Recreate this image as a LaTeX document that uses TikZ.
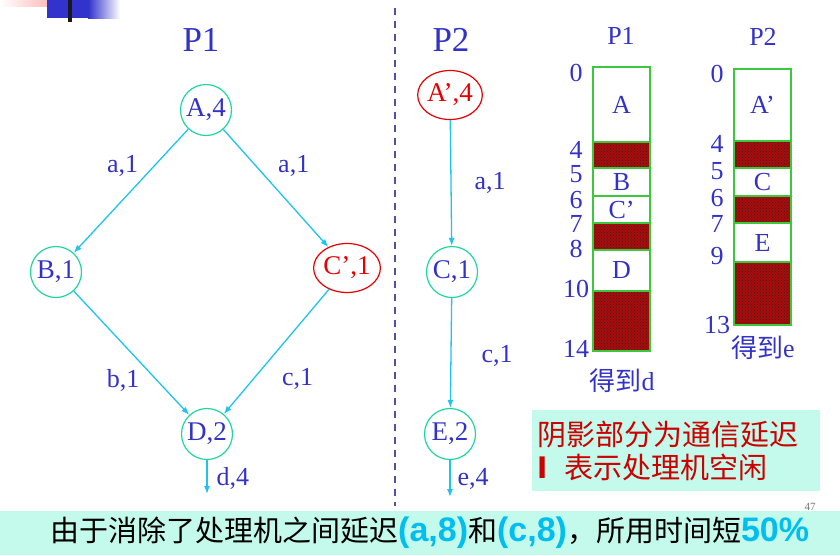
\documentclass[tikz,border=0pt]{standalone}
\usepackage{fontspec}
\setmainfont{Liberation Serif}
\newfontfamily\cjk{Noto Sans CJK SC}
\newfontfamily\lsans{Liberation Sans}
\usetikzlibrary{arrows.meta, shapes.geometric, patterns, positioning}
\definecolor{inkblue}{RGB}{50,50,200}
\definecolor{ringgreen}{RGB}{30,215,160}
\definecolor{hotred}{RGB}{230,0,0}
\definecolor{skyline}{RGB}{30,195,240}
\definecolor{slotgreen}{RGB}{60,200,60}
\definecolor{delayred}{RGB}{175,10,10}
\definecolor{splitline}{RGB}{80,80,170}
\definecolor{mintband}{RGB}{196,250,236}
\definecolor{notered}{RGB}{205,0,0}
\definecolor{brightcyan}{RGB}{0,190,240}
\definecolor{barblue}{RGB}{50,50,205}
\definecolor{barpink}{RGB}{255,170,170}
\newcommand{\hl}[1]{{\color{brightcyan}\lsans\bfseries\fontsize{34}{34}\selectfont #1}}
\tikzset{
  task/.style={circle, draw=ringgreen, line width=1.2pt, minimum size=51pt,
    inner sep=0pt, text=inkblue, font=\fontsize{27}{29}\selectfont},
  redtask/.style={task, ellipse, draw=hotred, text=hotred,
    minimum width=57pt, minimum height=49pt},
  edge/.style={-{Latex[length=8pt,width=6pt]}, draw=skyline, line width=1.3pt},
  lbl/.style={text=inkblue, inner sep=1pt, font=\fontsize{26}{28}\selectfont},
  title/.style={text=inkblue, inner sep=0pt, font=\fontsize{35}{37}\selectfont},
  slot/.style={draw=slotgreen, line width=1.6pt},
  delay/.style={slot, preaction={fill=delayred}, pattern=crosshatch dots,
    pattern color=black!85},
  tick/.style={text=inkblue, inner sep=0pt, font=\fontsize{26}{28}\selectfont},
}

\begin{document}
\begin{tikzpicture}[x=1pt, y=-1pt]
\useasboundingbox (0,0) rectangle (840,555);

% corner ornament
\shade[left color=white, right color=barpink] (0,0) rectangle (62,6);
\fill[barblue] (47,0) rectangle (88,18);
\shade[left color=barblue, right color=white] (88,0) rectangle (120,18);
\fill[black!90] (68,0) rectangle (72,22);

% divider
\draw[splitline, line width=2pt, dash pattern=on 7pt off 6pt] (395,8) -- (395,506);

% P1 task graph
\node[title] (t1) at (201,40) {P1};
\node[task]    (A)  at (206,110) {A,4};
\node[task]    (B)  at (56,272)  {B,1};
\node[redtask] (Cq) at (347,268) {C’,1};
\node[task]    (D)  at (207,434) {D,2};
\coordinate (Dout) at (207,494);

\draw[edge] (A) -- node[lbl, pos=0.41, above left=2pt] {a,1} (B);
\draw[edge] (A) -- node[lbl, pos=0.46, above right=7pt] {a,1} (Cq);
\draw[edge] (B) -- node[lbl, pos=0.6, below left=3pt] {b,1} (D);
\draw[edge] (Cq) -- node[lbl, pos=0.55, below right=13pt] {c,1} (D);
\draw[edge] (D) -- node[lbl, pos=0.53, right=8pt] {d,4} (Dout);

% P2 task graph
\node[title] (t2) at (451,40) {P2};
\node[redtask] (Aq) at (450,95)  {A’,4};
\node[task]    (C)  at (452,272) {C,1};
\node[task]    (E)  at (450,434) {E,2};
\coordinate (Eout) at (450,497);

\draw[edge] (Aq) -- node[lbl, pos=0.5, right=22pt] {a,1} (C);
\draw[edge] (C) -- node[lbl, pos=0.53, right=29pt] {c,1} (E);
\draw[edge] (E) -- node[lbl, pos=0.5, right=6pt] {e,4} (Eout);

% schedule of P1
\node[tick] (g1) at (621,36) {P1};
\foreach \ya/\yb/\txt [count=\i] in {67/142/A, 168/196/B, 196/223/C’, 250/291/D}
  \draw[slot] (593,\ya) rectangle (650,\yb) node[tick, midway] (s1-\i) {\txt};
\foreach \ya/\yb in {142/168, 223/250, 291/351}
  \draw[delay] (593,\ya) rectangle (650,\yb);
\foreach \v/\y in {0/73, 4/150, 5/174, 6/200, 7/224, 8/249, 10/289, 14/349}
  \node[tick] (n1-\v) at (576,\y) {\v};
\node[tick] (got1) at (622,381) {{\cjk 得到}d};

% schedule of P2
\node[tick] (g2) at (763,37) {P2};
\foreach \ya/\yb/\txt [count=\i] in {69/141/A’, 168/196/C, 223/262/E}
  \draw[slot] (734,\ya) rectangle (791,\yb) node[tick, midway] (s2-\i) {\txt};
\foreach \ya/\yb in {141/168, 196/223, 262/325}
  \draw[delay] (734,\ya) rectangle (791,\yb);
\foreach \v/\y in {0/74, 4/144, 5/171, 6/198, 7/224, 9/256, 13/325}
  \node[tick] (n2-\v) at (717,\y) {\v};
\node[tick] (got2) at (763,348) {{\cjk 得到}e};

% legend
\node[fill=mintband, text=notered, align=left, anchor=north west, inner sep=0pt,
  minimum width=288pt, minimum height=81pt, text width=278pt,
  font=\cjk\fontsize{29}{33}\selectfont] (legend) at (532,410)
  {阴影部分为通信延迟\\{\bfseries I}\hspace{17pt}表示处理机空闲};

% page number and bottom band
\node[text=black!55, inner sep=0pt, font=\fontsize{11}{11}\selectfont] (pg) at (810,507) {47};
\fill[mintband] (0,511) rectangle (840,555);
\node[anchor=west, inner sep=0pt, font=\cjk\fontsize{29}{31}\selectfont] (sum) at (50,533)
  {由于消除了处理机之间延迟\hl{(a,8)}和\hl{(c,8)}，所用时间短\hl{50\%}};
\end{tikzpicture}
\end{document}
